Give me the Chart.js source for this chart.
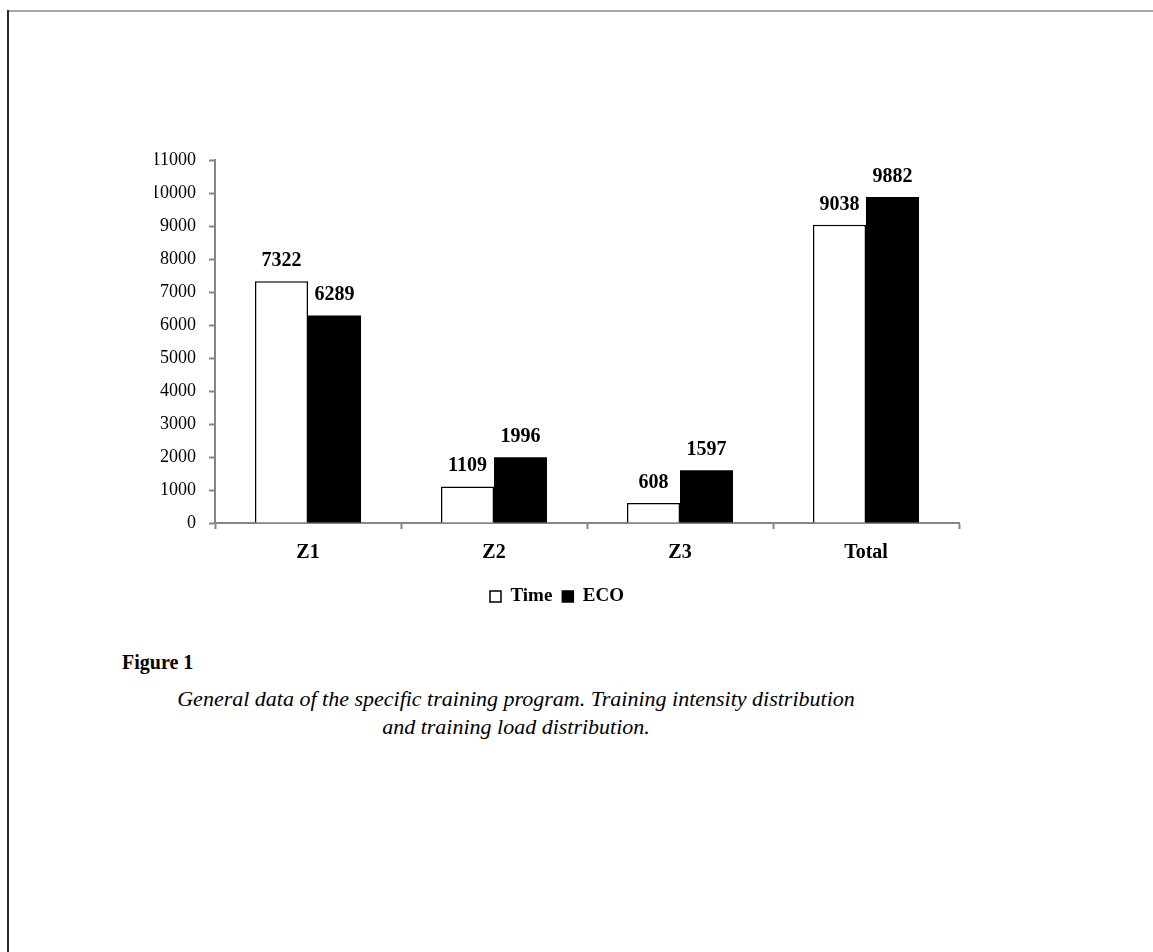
<!DOCTYPE html>
<html>
<head>
<meta charset="utf-8">
<script src="https://cdn.jsdelivr.net/npm/chart.js@4/dist/chart.umd.min.js"></script>
<style>
  body { margin: 0; background: #fff; }
  #page { position: relative; width: 1153px; height: 952px; overflow: hidden; }
  #topRule { position: absolute; left: 7px; top: 10px; right: 0; height: 2px; background: #a6a6a6; }
  #leftRule { position: absolute; left: 7px; top: 10px; bottom: 0; width: 2px; background: #2b2b2b; }
  #chartCanvas { position: absolute; left: 0; top: 0; }
  #figTitle { position: absolute; left: 122px; top: 651px; font: bold 20px "Liberation Serif", serif; color: #000; }
  #figCaption { position: absolute; left: 0; width: 1032px; top: 685px; text-align: center;
    font: italic 22px/28px "Liberation Serif", serif; color: #000; }
</style>
</head>
<body>
<div id="page">
  <div id="topRule"></div>
  <div id="leftRule"></div>
  <canvas id="chartCanvas" width="1153" height="640"></canvas>
  <div id="figTitle">Figure 1</div>
  <div id="figCaption">General data of the specific training program. Training intensity distribution<br>and training load distribution.</div>
</div>
<script>
// Chart data
const categories = ['Z1', 'Z2', 'Z3', 'Total'];
const timeValues = [7322, 1109, 608, 9038];
const ecoValues = [6289, 1996, 1597, 9882];

const serif = '"Liberation Serif", "Times New Roman", serif';
const axisGray = '#868686';

// Draws the value above each bar
const valueLabels = {
  id: 'valueLabels',
  afterDatasetsDraw(chart) {
    const ctx = chart.ctx;
    ctx.save();
    ctx.font = 'bold 20px ' + serif;
    ctx.fillStyle = '#000';
    ctx.textAlign = 'center';
    ctx.textBaseline = 'alphabetic';
    chart.data.datasets.forEach((ds, i) => {
      const meta = chart.getDatasetMeta(i);
      meta.data.forEach((bar, j) => {
        ctx.fillText(String(ds.data[j]), bar.x, bar.y - 15);
      });
    });
    ctx.restore();
  }
};

const ctx = document.getElementById('chartCanvas').getContext('2d');
new Chart(ctx, {
  type: 'bar',
  data: {
    labels: categories,
    datasets: [
      {
        label: 'Time',
        data: timeValues,
        backgroundColor: '#ffffff',
        borderColor: '#000000',
        borderWidth: 1.5
      },
      {
        label: 'ECO',
        data: ecoValues,
        backgroundColor: '#000000',
        borderColor: '#000000',
        borderWidth: 0
      }
    ]
  },
  options: {
    responsive: false,
    animation: false,
    categoryPercentage: 0.57,
    barPercentage: 1.0,
    layout: {
      padding: { left: 155, right: 194, top: 160, bottom: 24 }
    },
    plugins: {
      tooltip: { enabled: false },
      legend: {
        position: 'bottom',
        labels: {
          font: { family: serif, size: 19, weight: 'bold' },
          color: '#000',
          usePointStyle: true,
          pointStyle: 'rect',
          boxWidth: 11,
          boxHeight: 11,
          padding: 10,
          generateLabels(chart) {
            return chart.data.datasets.map((ds, i) => ({
              text: ds.label,
              fillStyle: ds.backgroundColor,
              strokeStyle: '#000',
              lineWidth: 1.5,
              pointStyle: 'rect',
              datasetIndex: i
            }));
          }
        }
      }
    },
    scales: {
      x: {
        grid: {
          display: true,
          drawOnChartArea: false,
          drawTicks: true,
          tickLength: 6,
          tickWidth: 2,
          color: axisGray,
          offset: true
        },
        border: { display: true, color: axisGray, width: 2 },
        ticks: {
          font: { family: serif, size: 20, weight: 'bold' },
          color: '#000',
          padding: 12
        },
        afterFit(scale) { scale.height = 54; }
      },
      y: {
        min: 0,
        max: 11000,
        grid: {
          display: true,
          drawOnChartArea: false,
          drawTicks: true,
          tickLength: 6,
          tickWidth: 2,
          color: axisGray
        },
        border: { display: true, color: axisGray, width: 2 },
        ticks: {
          stepSize: 1000,
          font: { family: serif, size: 18 },
          color: '#000',
          padding: 13,
          callback: (v) => String(v)
        },
        afterFit(scale) { scale.width = 60; }
      }
    }
  },
  plugins: [valueLabels]
});
</script>
</body>
</html>
